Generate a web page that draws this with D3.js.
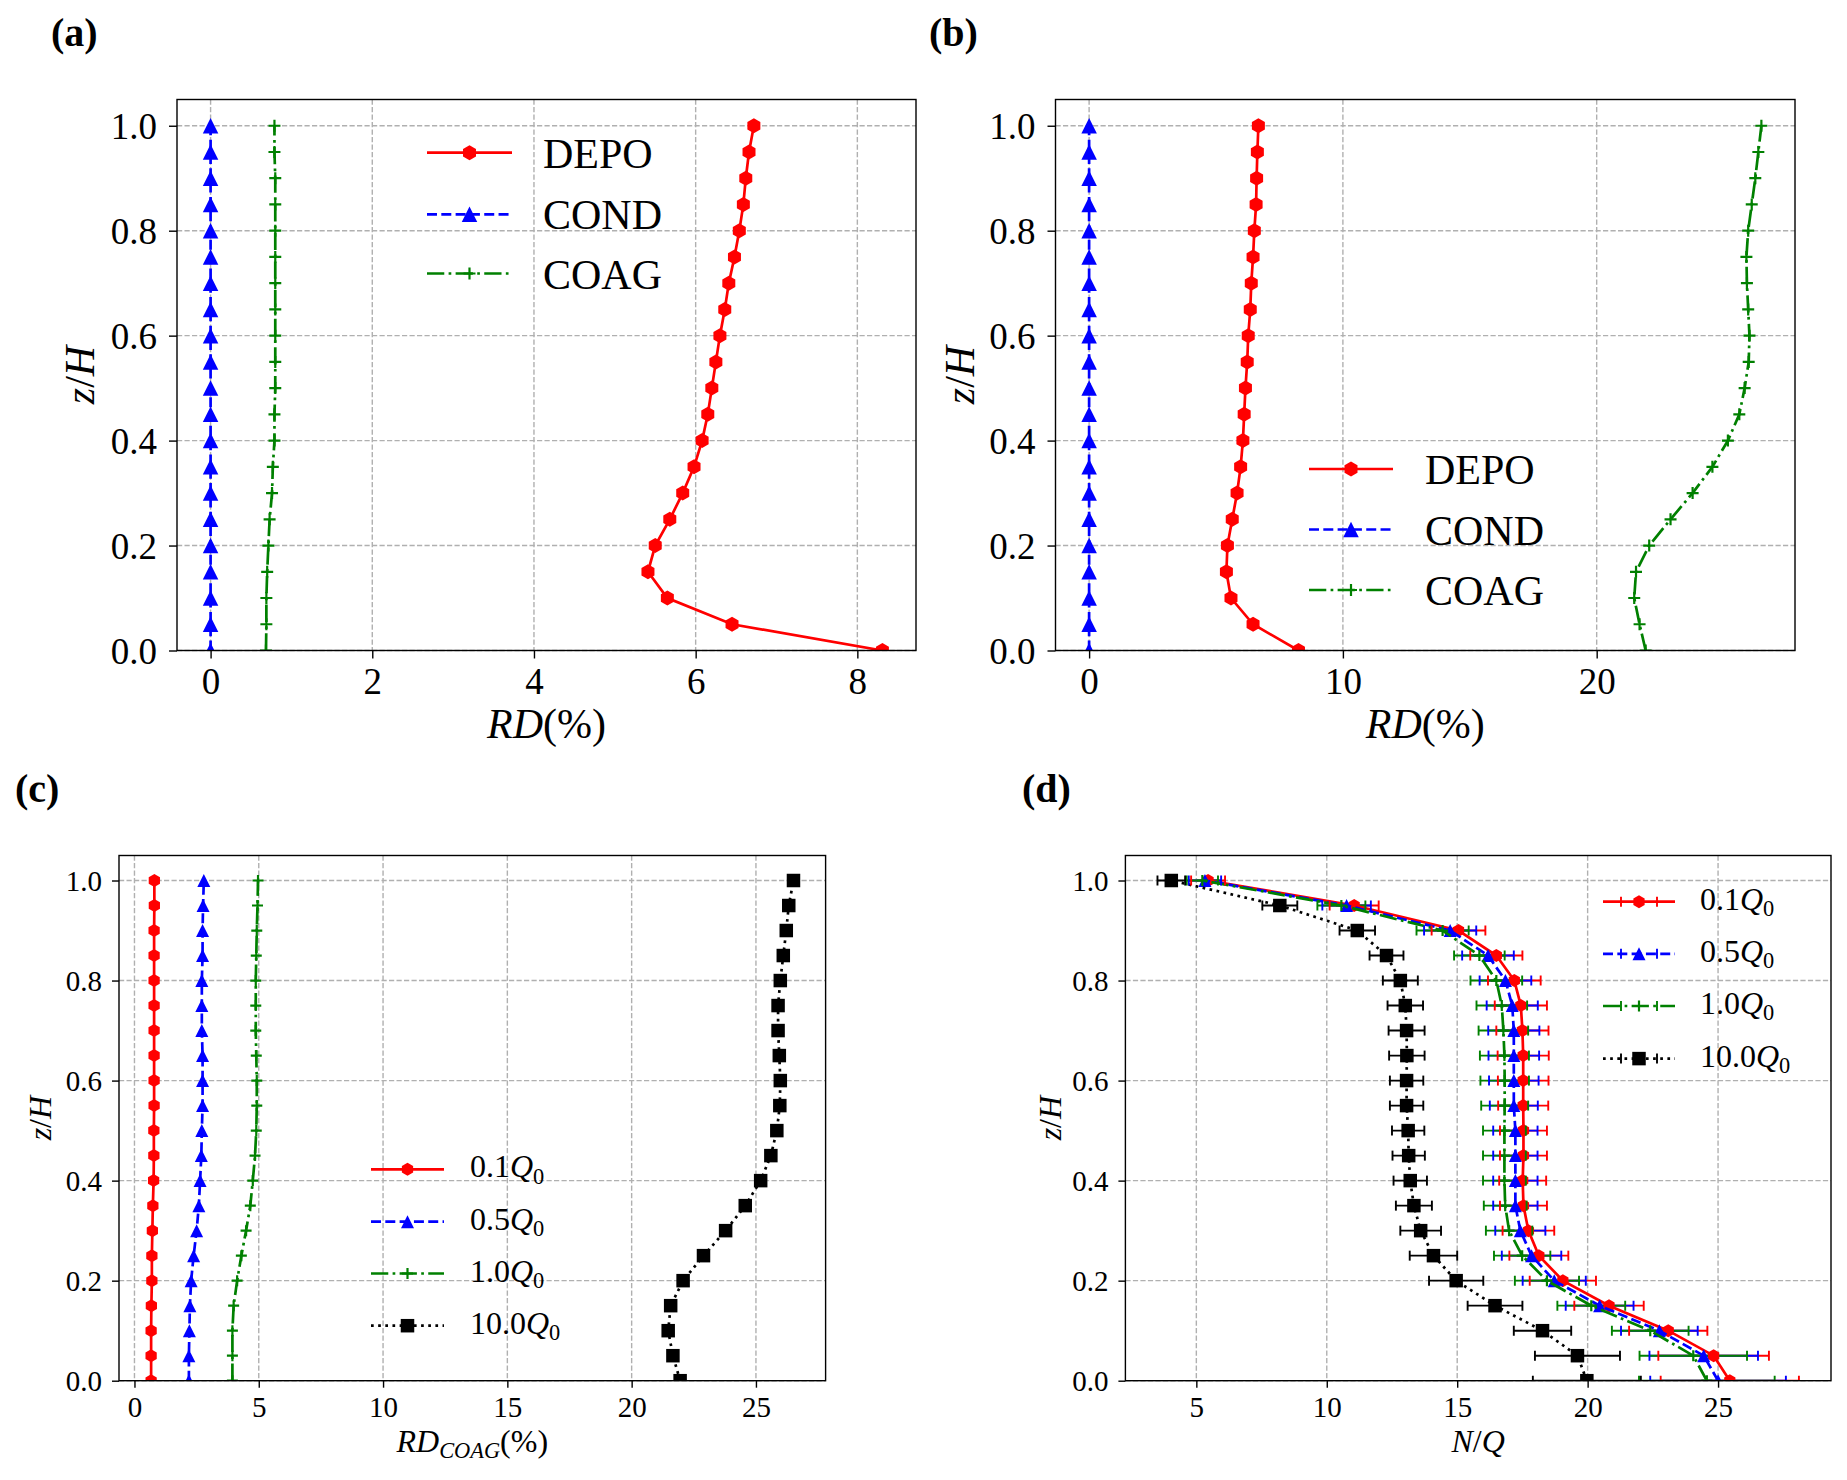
<!DOCTYPE html>
<html>
<head>
<meta charset="utf-8">
<script src="https://d3js.org/d3.v7.min.js"></script>
<style>
body { margin: 0; background: #fff; }
text { font-family: "Liberation Serif", "DejaVu Serif", serif; fill: #000; }
</style>
</head>
<body>
<svg id="fig" width="1847" height="1480"></svg>
<script>
// heights (z/H) shared by every profile
const zH = [0, 0.05, 0.1, 0.15, 0.2, 0.25, 0.3, 0.35, 0.4, 0.45, 0.5,
            0.55, 0.6, 0.65, 0.7, 0.75, 0.8, 0.85, 0.9, 0.95, 1.0];
const zTicks = [0, 0.2, 0.4, 0.6, 0.8, 1.0];

// (a) relative difference, low emission
const depoA = [8.31, 6.45, 5.65, 5.41, 5.50, 5.68, 5.84, 5.98, 6.08, 6.15, 6.20,
               6.25, 6.30, 6.36, 6.41, 6.48, 6.54, 6.59, 6.62, 6.66, 6.72];
const condA = [0, 0, 0, 0, 0, 0, 0, 0, 0, 0, 0, 0, 0, 0, 0, 0, 0, 0, 0, 0, 0];
const coagA = [0.685, 0.69, 0.69, 0.70, 0.715, 0.73, 0.76, 0.77, 0.79, 0.79, 0.80,
               0.80, 0.80, 0.80, 0.80, 0.80, 0.80, 0.80, 0.80, 0.79, 0.79];
const ticksA = [0, 2, 4, 6, 8];

// (b) relative difference, high emission
const depoB = [8.25, 6.46, 5.59, 5.41, 5.45, 5.64, 5.83, 5.97, 6.06, 6.11, 6.16,
               6.23, 6.27, 6.35, 6.39, 6.46, 6.51, 6.58, 6.60, 6.63, 6.67];
const condB = [0, 0, 0, 0, 0, 0, 0, 0, 0, 0, 0, 0, 0, 0, 0, 0, 0, 0, 0, 0, 0];
const coagB = [21.93, 21.69, 21.48, 21.55, 22.07, 22.91, 23.78, 24.56, 25.17, 25.62, 25.83,
               25.99, 26.02, 25.97, 25.92, 25.90, 25.97, 26.11, 26.25, 26.37, 26.49];
const ticksB = [0, 10, 20];

// (c) RD_COAG for four emission rates
const coagQ01 = [0.67, 0.67, 0.67, 0.68, 0.70, 0.70, 0.72, 0.74, 0.77, 0.78, 0.78,
                 0.79, 0.79, 0.79, 0.79, 0.79, 0.79, 0.79, 0.79, 0.80, 0.80];
const coagQ05 = [2.19, 2.19, 2.21, 2.23, 2.28, 2.38, 2.50, 2.59, 2.64, 2.69, 2.71,
                 2.74, 2.74, 2.74, 2.71, 2.71, 2.71, 2.74, 2.74, 2.76, 2.79];
const coagQ10 = [3.94, 3.94, 3.94, 3.99, 4.13, 4.30, 4.49, 4.66, 4.76, 4.85, 4.90,
                 4.92, 4.92, 4.90, 4.88, 4.88, 4.88, 4.90, 4.92, 4.95, 4.97];
const coagQ100 = [21.95, 21.66, 21.47, 21.57, 22.07, 22.89, 23.78, 24.57, 25.19, 25.60, 25.84,
                  25.96, 25.98, 25.94, 25.89, 25.89, 25.98, 26.10, 26.22, 26.32, 26.51];
const ticksC = [0, 5, 10, 15, 20, 25];

// (d) N/Q with spread
const nqQ01 = [25.45, 24.83, 23.09, 20.82, 19.05, 18.13, 17.73, 17.54, 17.51, 17.54, 17.54,
               17.53, 17.53, 17.53, 17.50, 17.44, 17.19, 16.50, 15.05, 11.05, 5.45];
const errQ01 = [2.65, 2.12, 1.50, 1.33, 1.27, 1.13, 0.99, 0.90, 0.90, 0.90, 0.90,
                0.96, 0.97, 0.98, 1.00, 1.00, 1.01, 1.00, 1.03, 0.94, 0.65];
const nqQ05 = [25.00, 24.45, 22.75, 20.46, 18.72, 17.85, 17.42, 17.23, 17.23, 17.23, 17.23,
               17.17, 17.17, 17.17, 17.17, 17.11, 16.85, 16.18, 14.73, 10.76, 5.33];
const errQ05 = [2.60, 2.08, 1.47, 1.30, 1.21, 1.14, 0.96, 0.85, 0.85, 0.85, 0.85,
                0.92, 0.95, 0.97, 0.98, 0.98, 0.99, 0.99, 1.00, 0.93, 0.62];
const nqQ10 = [24.57, 24.05, 22.40, 20.14, 18.44, 17.49, 16.99, 16.84, 16.81, 16.81, 16.81,
               16.82, 16.82, 16.81, 16.77, 16.71, 16.50, 15.85, 14.44, 10.56, 5.23];
const errQ10 = [2.60, 2.06, 1.47, 1.30, 1.23, 1.08, 0.89, 0.82, 0.82, 0.82, 0.82,
                0.90, 0.93, 0.94, 0.95, 0.97, 0.99, 0.97, 1.00, 0.92, 0.60];
const nqQ100 = [19.97, 19.61, 18.27, 16.45, 14.96, 14.09, 13.60, 13.34, 13.20, 13.14, 13.12,
                13.06, 13.06, 13.07, 13.06, 13.01, 12.82, 12.29, 11.17, 8.20, 4.04];
const errQ100 = [2.07, 1.63, 1.10, 1.05, 1.04, 0.91, 0.78, 0.69, 0.64, 0.62, 0.62,
                 0.64, 0.64, 0.68, 0.69, 0.68, 0.67, 0.65, 0.68, 0.67, 0.53];
const ticksD = [5, 10, 15, 20, 25];

const svg = d3.select('#fig');
const LW = 2.7;
const dashes = {
  solid: null,
  dashed: [3.7 * LW, 1.6 * LW].join(','),
  dashdot: [6.4 * LW, 1.6 * LW, 1 * LW, 1.6 * LW].join(','),
  dotted: [1 * LW, 1.65 * LW].join(',')
};

function drawMarker(g, type, cx, cy, s, color) {
  if (type === 'h') {
    const pts = [0, 1, 2, 3, 4, 5].map(i => {
      const a = (-90 + 60 * i) * Math.PI / 180;
      return [cx + s * 0.5 * Math.cos(a), cy + s * 0.5 * Math.sin(a)];
    });
    g.append('polygon').attr('points', pts.join(' ')).attr('fill', color);
  } else if (type === '^') {
    const h = s / 2;
    g.append('polygon')
      .attr('points', [[cx, cy - h], [cx - h, cy + h], [cx + h, cy + h]].join(' '))
      .attr('fill', color);
  } else if (type === 's') {
    g.append('rect').attr('x', cx - s / 2).attr('y', cy - s / 2)
      .attr('width', s).attr('height', s).attr('fill', color);
  } else if (type === '+') {
    const h = s / 2;
    g.append('path').attr('d', `M${cx - h},${cy}H${cx + h}M${cx},${cy - h}V${cy + h}`)
      .attr('stroke', color).attr('stroke-width', 2.2).attr('fill', 'none');
  }
}

// write math-ish text made of parts {t, i (italic), sub}
function mathText(sel, parts, size) {
  let shifted = 0;
  parts.forEach(p => {
    const ts = sel.append('tspan').text(p.t);
    if (p.i) ts.attr('font-style', 'italic');
    if (p.sub) {
      ts.attr('font-size', size * 0.7).attr('dy', size * 0.2 - shifted);
      shifted = size * 0.2;
    } else {
      ts.attr('font-size', size);
      if (shifted) { ts.attr('dy', -shifted); shifted = 0; }
    }
  });
}

function padDomain(vals) {
  const lo = d3.min(vals), hi = d3.max(vals), m = (hi - lo) * 0.05;
  return [lo - m, hi + m];
}

function drawPanel(p) {
  const g = svg.append('g');
  const x = d3.scaleLinear().domain(p.xDomain).range([p.l, p.r]);
  const y = d3.scaleLinear().domain([0, 1.05]).range([p.b, p.t]);
  const clipId = 'clip-' + p.tag;
  svg.append('clipPath').attr('id', clipId).append('rect')
    .attr('x', p.l).attr('y', p.t).attr('width', p.r - p.l).attr('height', p.b - p.t);

  // grid
  const grid = g.append('g').attr('stroke', '#b0b0b0').attr('stroke-width', 1.4)
    .attr('stroke-dasharray', '5.2,2.3');
  grid.selectAll('.gx').data(p.xTicks).enter().append('line')
    .attr('x1', d => x(d)).attr('x2', d => x(d)).attr('y1', p.t).attr('y2', p.b);
  grid.selectAll('.gy').data(zTicks).enter().append('line')
    .attr('y1', d => y(d)).attr('y2', d => y(d)).attr('x1', p.l).attr('x2', p.r);

  // axes
  const xa = g.append('g').attr('transform', `translate(0,${p.b})`)
    .call(d3.axisBottom(x).tickValues(p.xTicks).tickFormat(d3.format('d'))
      .tickSize(p.tick).tickPadding(p.xPad));
  const ya = g.append('g').attr('transform', `translate(${p.l},0)`)
    .call(d3.axisLeft(y).tickValues(zTicks).tickFormat(d3.format('.1f'))
      .tickSize(p.tick).tickPadding(p.yPad));
  [xa, ya].forEach(a => {
    a.select('.domain').remove();
    a.selectAll('line').attr('stroke', '#000').attr('stroke-width', 1.4);
    a.selectAll('text').attr('font-size', p.fTick)
      .attr('font-family', '"Liberation Serif", serif').attr('fill', '#000');
  });
  ya.selectAll('text').attr('dy', '0.34em');

  // series
  const plot = g.append('g').attr('clip-path', `url(#${clipId})`);
  const line = d3.line().x(d => x(d.v)).y(d => y(d.z));
  const rows = s => zH.map((z, i) => ({ z: z, v: s.vals[i], e: s.err ? s.err[i] : 0 }));

  // error bars first
  p.series.filter(s => s.err).forEach(s => {
    const eb = plot.append('g').attr('stroke', s.color).attr('stroke-width', 1.9);
    eb.selectAll('line').data(rows(s)).enter().append('line')
      .attr('x1', d => x(d.v - d.e)).attr('x2', d => x(d.v + d.e))
      .attr('y1', d => y(d.z)).attr('y2', d => y(d.z));
  });
  p.series.forEach(s => {
    plot.append('path').datum(rows(s)).attr('d', line)
      .attr('fill', 'none').attr('stroke', s.color).attr('stroke-width', LW)
      .attr('stroke-dasharray', dashes[s.dash]);
    const mk = plot.append('g');
    rows(s).forEach(d => drawMarker(mk, s.marker, x(d.v), y(d.z), p.mSize[s.marker], s.color));
  });
  p.series.filter(s => s.err).forEach(s => {
    const cp = plot.append('g').attr('stroke', s.color).attr('stroke-width', 1.9);
    rows(s).forEach(d => {
      [d.v - d.e, d.v + d.e].forEach(v => {
        cp.append('line').attr('x1', x(v)).attr('x2', x(v))
          .attr('y1', y(d.z) - 5).attr('y2', y(d.z) + 5);
      });
    });
  });

  // frame
  g.append('rect').attr('x', p.l).attr('y', p.t).attr('width', p.r - p.l).attr('height', p.b - p.t)
    .attr('fill', 'none').attr('stroke', '#000').attr('stroke-width', 1.4);

  // legend
  const lg = g.append('g');
  p.series.forEach((s, i) => {
    const ry = p.legend.rows[i];
    const x0 = p.legend.x0, x1 = p.legend.x1, xm = (x0 + x1) / 2;
    lg.append('line').attr('x1', x0).attr('x2', x1).attr('y1', ry).attr('y2', ry)
      .attr('stroke', s.color).attr('stroke-width', LW).attr('stroke-dasharray', dashes[s.dash]);
    if (s.err) {
      [xm - 18, xm + 18].forEach(cx => {
        lg.append('line').attr('x1', cx).attr('x2', cx).attr('y1', ry - 5).attr('y2', ry + 5)
          .attr('stroke', s.color).attr('stroke-width', 1.9);
      });
    }
    drawMarker(lg, s.marker, xm, ry, p.mSize[s.marker], s.color);
    mathText(lg.append('text').attr('x', p.legend.tx).attr('y', ry + p.legend.dy),
      s.label, p.fLegend);
  });

  // axis labels
  mathText(g.append('text').attr('x', (p.l + p.r) / 2).attr('y', p.xLabelY)
    .attr('text-anchor', 'middle'), p.xLabel, p.fLabel);
  const cy = (p.t + p.b) / 2;
  mathText(g.append('text').attr('x', p.yLabelX).attr('y', cy).attr('text-anchor', 'middle')
    .attr('transform', `rotate(-90,${p.yLabelX},${cy})`),
    [{ t: 'z', i: true }, { t: '/' }, { t: 'H', i: true }], p.fLabel);

  // panel tag
  g.append('text').attr('x', p.tagX).attr('y', p.tagY).attr('font-size', 40)
    .attr('font-weight', 'bold').text(`(${p.tag})`);
}

const big = { tick: 8, xPad: 9, yPad: 12, fTick: 37, fLegend: 42, fLabel: 42,
  mSize: { h: 15, '^': 15.5, '+': 12, s: 13.5 } };
const small = { tick: 7, xPad: 8.5, yPad: 10, fTick: 29, fLegend: 32, fLabel: 32,
  mSize: { h: 13, '^': 13, '+': 11, s: 13.5 } };
const rdLabel = [{ t: 'RD', i: true }, { t: '(%)' }];
const qLabel = q => [{ t: q }, { t: 'Q', i: true }, { t: '0', sub: true }];

drawPanel(Object.assign({}, big, {
  tag: 'a', tagX: 51, tagY: 46, l: 177, r: 916, t: 99.5, b: 650.5,
  xDomain: padDomain(depoA.concat(condA, coagA)), xTicks: ticksA,
  series: [
    { vals: depoA, color: '#ff0000', dash: 'solid', marker: 'h', label: [{ t: 'DEPO' }] },
    { vals: condA, color: '#0000ff', dash: 'dashed', marker: '^', label: [{ t: 'COND' }] },
    { vals: coagA, color: '#008000', dash: 'dashdot', marker: '+', label: [{ t: 'COAG' }] }
  ],
  legend: { x0: 427, x1: 512, tx: 543, dy: 15, rows: [152.7, 214.3, 273.5] },
  xLabel: rdLabel, xLabelY: 738, yLabelX: 94
}));

drawPanel(Object.assign({}, big, {
  tag: 'b', tagX: 929, tagY: 46, l: 1055.5, r: 1795, t: 99.5, b: 650.5,
  xDomain: padDomain(depoB.concat(condB, coagB)), xTicks: ticksB,
  series: [
    { vals: depoB, color: '#ff0000', dash: 'solid', marker: 'h', label: [{ t: 'DEPO' }] },
    { vals: condB, color: '#0000ff', dash: 'dashed', marker: '^', label: [{ t: 'COND' }] },
    { vals: coagB, color: '#008000', dash: 'dashdot', marker: '+', label: [{ t: 'COAG' }] }
  ],
  legend: { x0: 1309, x1: 1393, tx: 1425, dy: 15, rows: [469, 529.5, 590] },
  xLabel: rdLabel, xLabelY: 738, yLabelX: 974
}));

drawPanel(Object.assign({}, small, {
  tag: 'c', tagX: 15, tagY: 802, l: 119, r: 825.6, t: 855.5, b: 1380.7,
  xDomain: padDomain(coagQ01.concat(coagQ05, coagQ10, coagQ100)), xTicks: ticksC,
  series: [
    { vals: coagQ01, color: '#ff0000', dash: 'solid', marker: 'h', label: qLabel('0.1') },
    { vals: coagQ05, color: '#0000ff', dash: 'dashed', marker: '^', label: qLabel('0.5') },
    { vals: coagQ10, color: '#008000', dash: 'dashdot', marker: '+', label: qLabel('1.0') },
    { vals: coagQ100, color: '#000000', dash: 'dotted', marker: 's', label: qLabel('10.0') }
  ],
  legend: { x0: 371, x1: 444, tx: 470, dy: 8, rows: [1169.3, 1221.7, 1273.5, 1325.7] },
  xLabel: [{ t: 'RD', i: true }, { t: 'COAG', i: true, sub: true }, { t: '(%)' }],
  xLabelY: 1452, yLabelX: 51
}));

const lowD = nqQ01.map((v, i) => v - errQ01[i]).concat(nqQ05.map((v, i) => v - errQ05[i]),
  nqQ10.map((v, i) => v - errQ10[i]), nqQ100.map((v, i) => v - errQ100[i]));
const highD = nqQ01.map((v, i) => v + errQ01[i]).concat(nqQ05.map((v, i) => v + errQ05[i]),
  nqQ10.map((v, i) => v + errQ10[i]), nqQ100.map((v, i) => v + errQ100[i]));

drawPanel(Object.assign({}, small, {
  tag: 'd', tagX: 1022, tagY: 802, l: 1125.4, r: 1831, t: 855.5, b: 1380.7,
  xDomain: padDomain(lowD.concat(highD)), xTicks: ticksD,
  series: [
    { vals: nqQ01, err: errQ01, color: '#ff0000', dash: 'solid', marker: 'h', label: qLabel('0.1') },
    { vals: nqQ05, err: errQ05, color: '#0000ff', dash: 'dashed', marker: '^', label: qLabel('0.5') },
    { vals: nqQ10, err: errQ10, color: '#008000', dash: 'dashdot', marker: '+', label: qLabel('1.0') },
    { vals: nqQ100, err: errQ100, color: '#000000', dash: 'dotted', marker: 's', label: qLabel('10.0') }
  ],
  legend: { x0: 1603, x1: 1675, tx: 1700, dy: 8, rows: [901.7, 953.8, 1006, 1058.6] },
  xLabel: [{ t: 'N', i: true }, { t: '/' }, { t: 'Q', i: true }],
  xLabelY: 1452, yLabelX: 1061
}));
</script>
</body>
</html>
